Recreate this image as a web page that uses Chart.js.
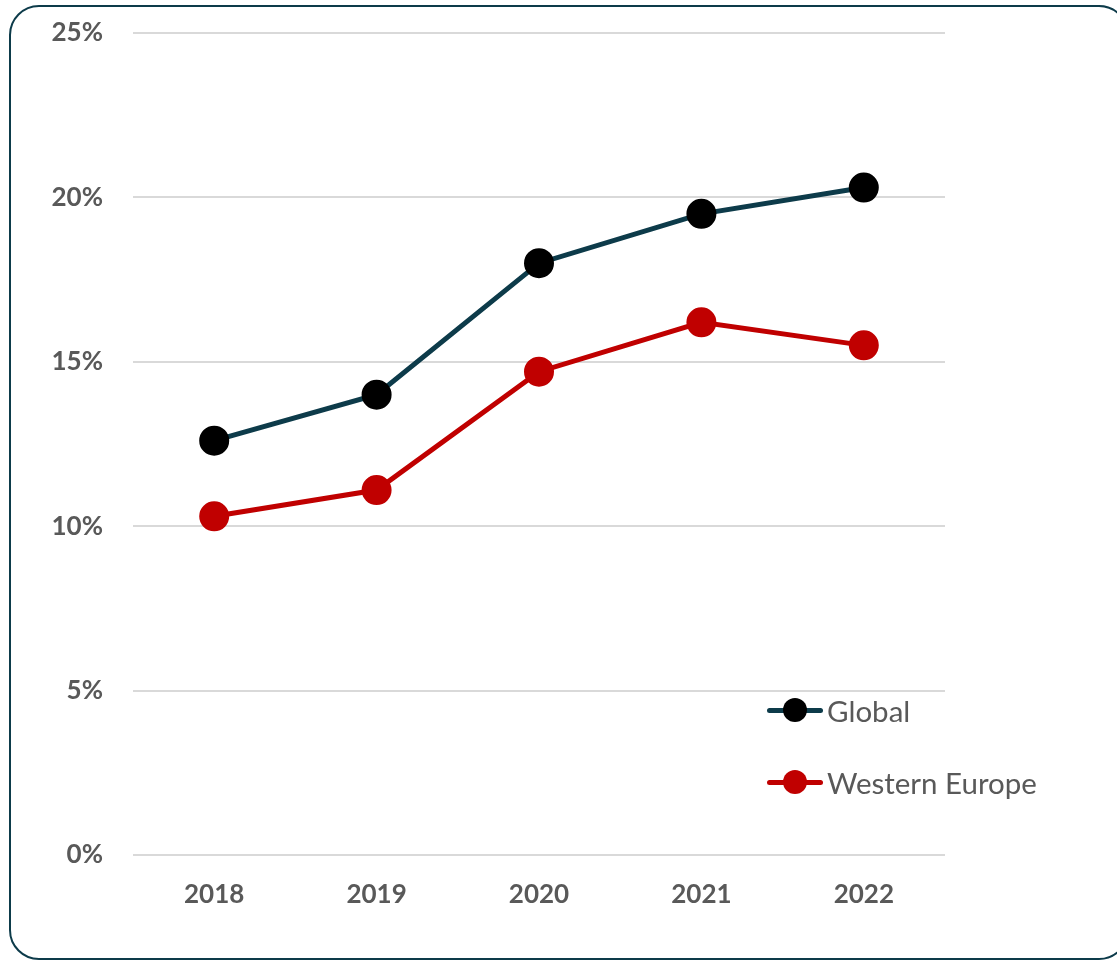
<!DOCTYPE html>
<html>
<head>
<meta charset="utf-8">
<script src="https://cdn.jsdelivr.net/npm/chart.js@4.4.1/dist/chart.umd.min.js"></script>
<style>
  html, body { margin: 0; padding: 0; background: #fff; }
  #wrap { position: relative; width: 1117px; height: 963px; overflow: hidden; }
  #frame {
    position: absolute; left: 9px; top: 5px; width: 1120px; height: 955px;
    border: 2.5px solid #0d3b4a; border-radius: 30px; box-sizing: border-box;
  }
  canvas { position: absolute; left: 0; top: 0; }
  .leg { position: absolute; left: 767px; height: 30px; display: flex; align-items: center;
         font-family: Lato, "Open Sans", sans-serif; font-size: 29.5px; color: #595959; }
  .leg .sym { position: relative; width: 56px; height: 30px; margin-right: 4px; }
  .leg .ln { position: absolute; left: 0; right: 0; top: 13px; height: 5px; border-radius: 3px; }
  .leg .dot { position: absolute; left: 16px; top: 3px; width: 24px; height: 24px; border-radius: 50%; }
</style>
</head>
<body>
<div id="wrap">
  <div id="frame"></div>
  <canvas id="lineChart" width="1117" height="963"></canvas>
  <div class="leg" style="top:695px">
    <div class="sym"><div class="ln" style="background:#0d3b4a"></div><div class="dot" style="background:#000"></div></div>Global
  </div>
  <div class="leg" style="top:767px">
    <div class="sym"><div class="ln" style="background:#c00000"></div><div class="dot" style="background:#c00000"></div></div>Western Europe
  </div>
</div>
<script>
  // chart data
  const years = ["2018", "2019", "2020", "2021", "2022"];
  const globalShare = [12.6, 14.0, 18.0, 19.5, 20.3];
  const westernEurope = [10.3, 11.1, 14.7, 16.2, 15.5];
  const yTicks = [0, 5, 10, 15, 20, 25];

  const tickFont = { family: "Lato, 'Open Sans', sans-serif", size: 26, weight: "bold" };

  const ctx = document.getElementById("lineChart").getContext("2d");
  new Chart(ctx, {
    type: "line",
    data: {
      labels: years,
      datasets: [
        {
          label: "Global",
          data: globalShare,
          borderColor: "#0d3b4a",
          borderWidth: 5,
          pointBackgroundColor: "#000000",
          pointBorderColor: "#000000",
          pointRadius: 12.5,
          tension: 0,
        },
        {
          label: "Western Europe",
          data: westernEurope,
          borderColor: "#c00000",
          borderWidth: 5,
          pointBackgroundColor: "#c00000",
          pointBorderColor: "#c00000",
          pointRadius: 12.5,
          tension: 0,
        },
      ],
    },
    options: {
      responsive: false,
      animation: false,
      layout: { autoPadding: false, padding: { top: 33, right: 172, bottom: 0, left: 0 } },
      plugins: {
        legend: { display: false },
        tooltip: { enabled: false },
      },
      scales: {
        x: {
          offset: true,
          grid: { display: false, drawTicks: false, offset: true },
          border: { display: false },
          ticks: { color: "#595959", font: tickFont, padding: 24 },
          afterFit: (scale) => { scale.height = 108; },
        },
        y: {
          min: 0,
          max: 25,
          afterBuildTicks: (scale) => { scale.ticks = yTicks.map((v) => ({ value: v })); },
          grid: { color: "#d9d9d9", lineWidth: 2, drawTicks: false },
          border: { display: false },
          ticks: {
            color: "#595959",
            font: tickFont,
            padding: 30,
            callback: (v) => v + "%",
          },
          // keep the plot top at 33px, tick padding would push it down
          afterFit: (scale) => {
            scale.width = 133;
            scale.paddingTop = 0;
            scale.paddingBottom = 0;
          },
        },
      },
    },
  });
</script>
</body>
</html>
